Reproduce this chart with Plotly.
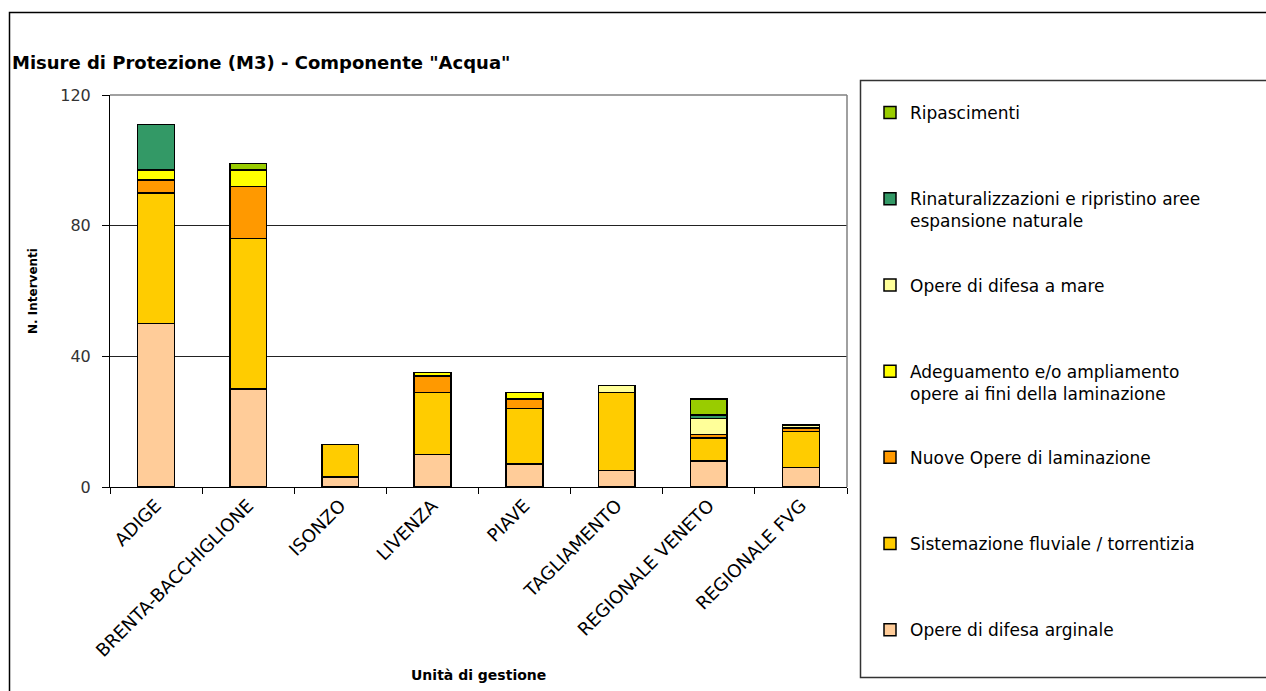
import plotly.graph_objects as go

# Unità di gestione (categories on the x axis)
units = ["ADIGE", "BRENTA-BACCHIGLIONE", "ISONZO", "LIVENZA", "PIAVE",
         "TAGLIAMENTO", "REGIONALE VENETO", "REGIONALE FVG"]

# Number of interventions per measure type, stacked bottom to top
difesa_arginale = [50, 30, 3, 10, 7, 5, 8, 6]
sistemazione = [40, 46, 10, 19, 17, 24, 7, 11]
nuove_laminazione = [4, 16, 0, 5, 3, 0, 1, 1]
adeguamento = [3, 5, 0, 1, 2, 0, 0, 0]
difesa_mare = [0, 0, 0, 0, 0, 2, 5, 1]
rinaturalizzazioni = [14, 0, 0, 0, 0, 0, 1, 0]
ripascimenti = [0, 2, 0, 0, 0, 0, 5, 0]

series = [
    ("Opere di difesa arginale", difesa_arginale, "#FFCC99", 1),
    ("Sistemazione fluviale / torrentizia", sistemazione, "#FFCC00", 1),
    ("Nuove Opere di laminazione", nuove_laminazione, "#FF9900", 1),
    ("Adeguamento e/o ampliamento<br>opere ai fini della laminazione", adeguamento, "#FFFF00", 2),
    ("Opere di difesa a mare", difesa_mare, "#FFFF99", 1),
    ("Rinaturalizzazioni e ripristino aree<br>espansione naturale", rinaturalizzazioni, "#339966", 2),
    ("Ripascimenti", ripascimenti, "#99CC00", 1),
]

W, H = 1266, 691
L, R = 110, 847          # plot area, horizontal pixels
T, B = 95, 487           # plot area, vertical pixels
MT, MB = 40, 681         # paper area (extra room so the tall legend fits)


def px(x):
    return (x - L) / (R - L)


def py(y):
    return (MB - y) / (MB - MT)


FONT = "DejaVu Sans"

fig = go.Figure()
n = len(series)
for i, (name, vals, color, nlines) in enumerate(series):
    label = name if nlines == 2 else name + "<br> "
    fig.add_trace(go.Bar(
        x=units, y=vals, name=label, legendgroup=f"g{i}", legendrank=n - i,
        marker=dict(color=color, line=dict(color="#000000", width=1.5)),
    ))

fig.update_layout(
    width=W, height=H,
    margin=dict(l=L, r=W - R, t=MT, b=H - MB, pad=0, autoexpand=False),
    paper_bgcolor="white", plot_bgcolor="white",
    barmode="stack", bargap=0.6,
    font=dict(family=FONT, color="#000000"),
    title=dict(text="<b>Misure di Protezione (M3) - Componente \"Acqua\"</b>",
               x=12 / W, xref="container", xanchor="left",
               y=1 - 63 / H, yref="container", yanchor="middle",
               font=dict(family=FONT, size=18, color="#000000")),
    showlegend=True,
    legend=dict(
        x=px(870), y=py(95), xanchor="left", yanchor="top",
        traceorder="grouped", tracegroupgap=39,
        valign="top", bgcolor="rgba(0,0,0,0)", borderwidth=0,
        font=dict(family=FONT, size=17, color="#000000"),
    ),
    xaxis=dict(
        type="category", tickson="boundaries", ticks="outside", ticklen=6,
        tickcolor="#000000", showline=True, linecolor="#000000", linewidth=1,
        tickangle=-45, tickfont=dict(family=FONT, size=18, color="#000000"),
        showgrid=False, zeroline=False, automargin=False,
    ),
    yaxis=dict(
        domain=[py(B), py(T)],
        range=[0, 120], dtick=40, tick0=0, ticks="outside", ticklen=7,
        ticklabelstandoff=8, automargin=False,
        tickcolor="#000000", showline=True, linecolor="#000000", linewidth=1,
        showgrid=True, gridcolor="#222222", gridwidth=1, zeroline=False,
        tickfont=dict(family=FONT, size=16, color="#333333"),
    ),
    shapes=[
        # plot area border (top and right edges)
        dict(type="line", xref="x domain", yref="y domain", x0=0, x1=1, y0=1, y1=1,
             line=dict(color="#808080", width=1.5), layer="above"),
        dict(type="line", xref="x domain", yref="y domain", x0=1, x1=1, y0=0, y1=1,
             line=dict(color="#808080", width=1.5), layer="above"),
        # outer chart frame
        dict(type="rect", xref="paper", yref="paper",
             x0=px(9.5), x1=px(1275), y0=py(700), y1=py(12.5),
             line=dict(color="#000000", width=1.5)),
        # legend box
        dict(type="rect", xref="paper", yref="paper",
             x0=px(860.5), x1=px(1275), y0=py(677.5), y1=py(80.5),
             line=dict(color="#333333", width=1.5)),
    ],
    annotations=[
        dict(text="<b>N. Interventi</b>", textangle=-90, xref="paper", yref="paper",
             x=px(33), y=py((T + B) / 2), xanchor="center", yanchor="middle",
             showarrow=False, font=dict(family=FONT, size=12, color="#000000")),
        dict(text="<b>Unità di gestione</b>", xref="paper", yref="paper",
             x=px(478), y=py(675), xanchor="center", yanchor="middle", showarrow=False,
             font=dict(family=FONT, size=14, color="#000000")),
    ],
)

fig.write_html("out.html")
